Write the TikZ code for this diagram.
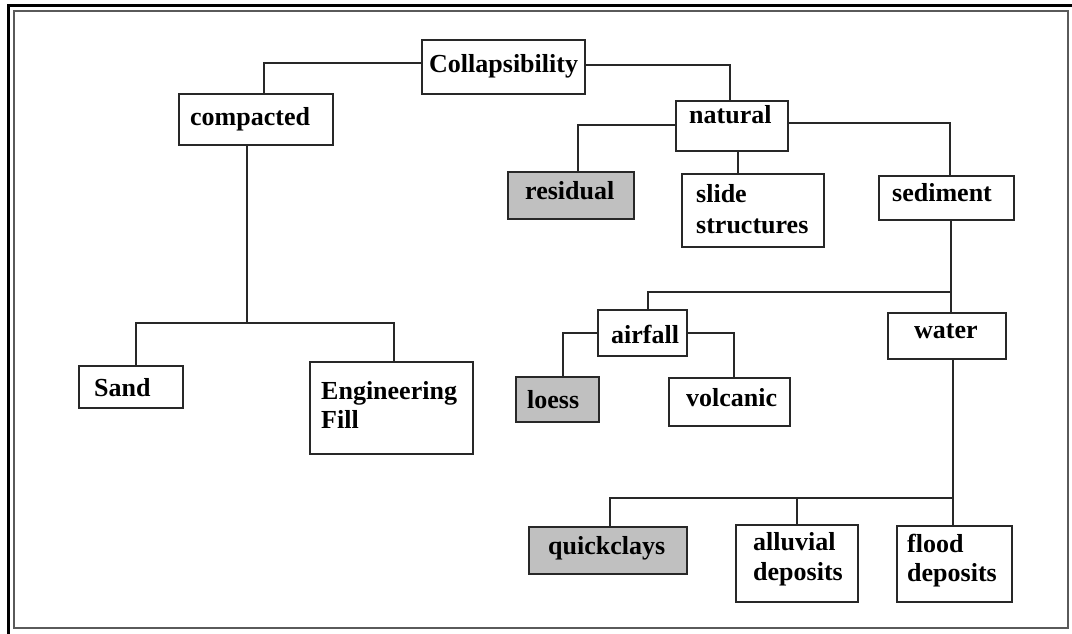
\documentclass[tikz,border=0pt]{standalone}
\usepackage{fontspec}
\setmainfont{Liberation Serif}
\definecolor{boxgray}{RGB}{192,192,192}
\definecolor{linegray}{RGB}{40,40,40}
\definecolor{framegray}{RGB}{90,90,90}
\newcommand\mybox[6]{\node[box,#6,minimum width={(#4-#2)*1pt},minimum height={(#5-#3)*1pt}] (#1) at ({(#2+#4)/2},{(#3+#5)/2}) {};}
\begin{document}
\begin{tikzpicture}[x=1pt,y=-1pt,
  box/.style={draw=linegray, line width=1.4pt, rectangle, inner sep=0pt, fill=white},
  shaded/.style={fill=boxgray},
  plain/.style={},
  txt/.style={anchor=base west, inner sep=0pt, font=\fontsize{26}{30}\selectfont\bfseries},
  conn/.style={draw=linegray, line width=1.4pt}]
\useasboundingbox (0,0) rectangle (1072,634);
% frames
\draw[line width=3pt, black] (8,640) -- (8,6) -- (1080,6);
\draw[line width=1.4pt, framegray] (14,11) rectangle (1068,628);
% boxes
\mybox{coll}{422}{40}{585}{94}{plain}
\mybox{comp}{179}{94}{333}{145}{plain}
\mybox{nat}{676}{101}{788}{151}{plain}
\mybox{res}{508}{172}{634}{219}{shaded}
\mybox{slide}{682}{174}{824}{247}{plain}
\mybox{sed}{879}{176}{1014}{220}{plain}
\mybox{air}{598}{310}{687}{356}{plain}
\mybox{water}{888}{313}{1006}{359}{plain}
\mybox{loess}{516}{377}{599}{422}{shaded}
\mybox{volc}{669}{378}{790}{426}{plain}
\mybox{sand}{79}{366}{183}{408}{plain}
\mybox{ef}{310}{362}{473}{454}{plain}
\mybox{qc}{529}{527}{687}{574}{shaded}
\mybox{allu}{736}{525}{858}{602}{plain}
\mybox{flood}{897}{526}{1012}{602}{plain}
% texts
\node[txt] (collt) at (429,73) {Collapsibility};
\node[txt] (compt) at (190,125) {compacted};
\node[txt] (natt) at (689,124) {natural};
\node[txt] (rest) at (525,199) {residual};
\node[txt] (slidet1) at (696,202) {slide};
\node[txt] (slidet2) at (696,233) {structures};
\node[txt] (sedt) at (892,201) {sediment};
\node[txt] (airt) at (611,343) {airfall};
\node[txt] (watert) at (914,338) {water};
\node[txt] (loesst) at (527,408) {loess};
\node[txt] (volct) at (686,406) {volcanic};
\node[txt] (sandt) at (94,396) {Sand};
\node[txt] (eft1) at (321,399) {Engineering};
\node[txt] (eft2) at (321,428) {Fill};
\node[txt] (qct) at (548,554) {quickclays};
\node[txt] (allut1) at (753,550) {alluvial};
\node[txt] (allut2) at (753,580) {deposits};
\node[txt] (floodt1) at (907,552) {flood};
\node[txt] (floodt2) at (907,581) {deposits};
% connectors
\draw[conn] (coll.west |- 0,63) -| (comp.north -| 264,0);
\draw[conn] (coll.east |- 0,65) -| (nat.north -| 730,0);
\coordinate (cj) at (247,323);
\draw[conn] (comp.south -| cj) -- (cj);
\draw[conn] (sand.north -| 136,0) |- (cj) -| (ef.north -| 394,0);
\draw[conn] (nat.west |- 0,125) -| (res.north -| 578,0);
\draw[conn] (nat.south -| 738,0) -- (slide.north -| 738,0);
\draw[conn] (nat.east |- 0,123) -| (sed.north -| 950,0);
\coordinate (sj) at (951,292);
\draw[conn] (sed.south -| sj) -- (water.north -| sj);
\draw[conn] (sj) -| (air.north -| 648,0);
\draw[conn] (air.west |- 0,333) -| (loess.north -| 563,0);
\draw[conn] (air.east |- 0,333) -| (volc.north -| 734,0);
\coordinate (wj) at (953,498);
\coordinate (aj) at (797,498);
\draw[conn] (water.south -| wj) -- (flood.north -| wj);
\draw[conn] (wj) -| (qc.north -| 610,0);
\draw[conn] (allu.north -| aj) -- (aj);
\end{tikzpicture}
\end{document}
